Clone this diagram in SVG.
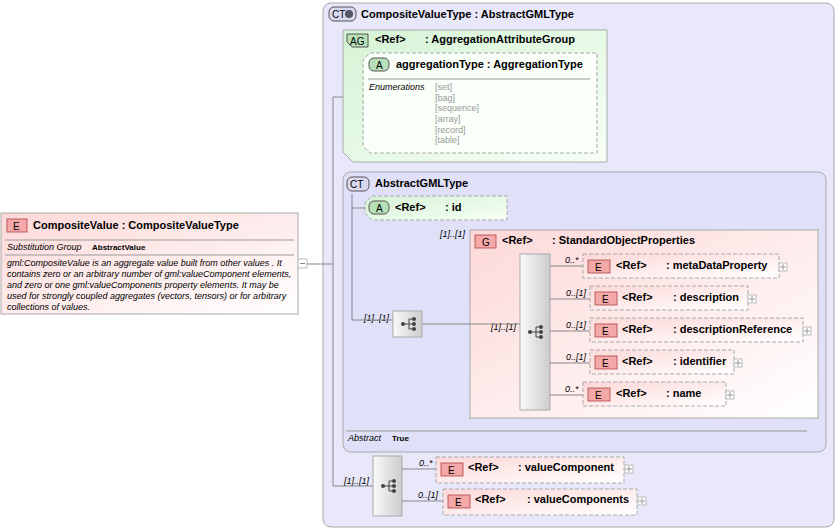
<svg xmlns="http://www.w3.org/2000/svg" width="838" height="530" viewBox="0 0 838 530">
<style>
text{font-family:"Liberation Sans",Arial,sans-serif;fill:#000}
.t{font-size:11px;font-weight:bold}
.s{font-size:9px;font-style:italic}
.d{font-size:9px;fill:#999}
.c{stroke:#888;stroke-width:1;fill:none}
.el{fill:url(#pk);stroke:#aaa;stroke-dasharray:4,2}
.eb{fill:#f4a8a8;stroke:#a44;stroke-width:0.8}
.pl{fill:#fff;stroke:#bbb}
</style>
<defs>
<linearGradient id="pk" x1="0" y1="0" x2="1" y2="1"><stop offset="0" stop-color="#fdd8d8"/><stop offset="1" stop-color="#fff"/></linearGradient>
<linearGradient id="gr" x1="0" y1="0" x2="1" y2="1"><stop offset="0" stop-color="#d6f3d6"/><stop offset="1" stop-color="#f6fff6"/></linearGradient>
<linearGradient id="sq" x1="0" y1="0" x2="1" y2="0"><stop offset="0" stop-color="#fafafa"/><stop offset="1" stop-color="#ccc"/></linearGradient>
<g id="seqicon"><circle cx="-6" cy="0" r="2" fill="#444"/><path d="M-6 0H0M0-5V5M0-5H4M0 0H4M0 5H4" stroke="#444" fill="none"/><circle cx="5" cy="-5" r="2" fill="#444"/><circle cx="5" cy="0" r="2" fill="#444"/><circle cx="5" cy="5" r="2" fill="#444"/></g>
</defs>

<g id="compositeValue">
<rect x="1" y="213" width="297" height="101" fill="url(#pk)" stroke="#aaa"/>
<rect x="7" y="219" width="20" height="13" class="eb"/><text x="13" y="230" font-size="10">E</text>
<text x="33" y="229" class="t">CompositeValue : CompositeValueType</text>
<line x1="5" y1="240" x2="294" y2="240" stroke="#999"/>
<text x="7" y="250" class="s">Substitution Group</text><text x="92" y="250" font-size="8" font-weight="bold">AbstractValue</text>
<line x1="5" y1="255" x2="294" y2="255" stroke="#999"/>
<text class="s" fill="#333"><tspan x="7" y="266">gml:CompositeValue is an aggregate value built from other values . It</tspan><tspan x="7" y="277">contains zero or an arbitrary number of gml:valueComponent elements,</tspan><tspan x="7" y="288">and zero or one gml:valueComponents property elements.  It may be</tspan><tspan x="7" y="299">used for strongly coupled aggregates (vectors, tensors) or for arbitrary</tspan><tspan x="7" y="310">collections of values.</tspan></text>
<rect x="298" y="259" width="9" height="9" class="pl"/><path d="M300 263.5H305" stroke="#888"/>
</g>

<g id="compositeValueType">
<rect x="323" y="3" width="511" height="524" rx="8" fill="#e8e8fa" stroke="#aaa"/>
<rect x="329" y="7" width="27" height="14" rx="5" fill="#d8d8ee" stroke="#555"/><text x="332" y="18" font-size="10">CT</text><circle cx="349" cy="14" r="4" fill="#556"/>
<text x="361" y="18" class="t">CompositeValueType : AbstractGMLType</text>
</g>

<g id="aggregationAttributeGroup">
<path d="M343 30H607V162H353L343 152Z" fill="url(#gr)" stroke="#aaa"/>
<path d="M347 34H368V47H352L347 42Z" fill="#b8e0b8" stroke="#555"/><text x="350" y="45" font-size="10">AG</text>
<text x="375" y="43" class="t">&lt;Ref&gt;</text><text x="425" y="43" class="t">: AggregationAttributeGroup</text>
<path d="M370 53H597V153H370L363 146V60Z" fill="#fafffa" stroke="#aaa" stroke-dasharray="4,2"/>
<rect x="369" y="58" width="20" height="13" rx="5" fill="#b8e0b8" stroke="#555"/><text x="376" y="69" font-size="10">A</text>
<text x="396" y="68" class="t">aggregationType : AggregationType</text>
<line x1="368" y1="79" x2="590" y2="79" stroke="#999"/>
<text x="369" y="90" class="s">Enumerations</text>
<text class="d"><tspan x="435" y="90">[set]</tspan><tspan x="435" y="101">[bag]</tspan><tspan x="435" y="111">[sequence]</tspan><tspan x="435" y="122">[array]</tspan><tspan x="435" y="133">[record]</tspan><tspan x="435" y="143">[table]</tspan></text>
</g>

<g id="abstractGMLType">
<rect x="343" y="172" width="483" height="280" rx="8" fill="#e0e0f8" stroke="#aaa"/>
<rect x="347" y="177" width="22" height="14" rx="5" fill="#d8d8ee" stroke="#555"/><text x="350" y="188" font-size="10">CT</text>
<text x="375" y="187" class="t">AbstractGMLType</text>
<line x1="346" y1="431" x2="807" y2="431" stroke="#999"/>
<text x="348" y="441" class="s">Abstract</text><text x="392" y="441" font-size="8" font-weight="bold">True</text>
</g>

<g id="attrId">
<path d="M372 196H507V220H372L365 213V203Z" fill="url(#gr)" stroke="#aaa" stroke-dasharray="4,2"/>
<rect x="369" y="201" width="20" height="13" rx="5" fill="#b8e0b8" stroke="#555"/><text x="376" y="212" font-size="10">A</text>
<text x="395" y="211" class="t">&lt;Ref&gt;</text><text x="445" y="211" class="t">: id</text>
</g>

<g id="seq1">
<text x="364" y="321" class="s">[1]..[1]</text>
<rect x="393" y="311" width="29" height="26" fill="url(#sq)" stroke="#aaa"/><use href="#seqicon" x="409" y="324"/>
</g>

<g id="standardObjectProperties">
<text x="440" y="237" class="s">[1]..[1]</text>
<rect x="470" y="230" width="348" height="188" fill="url(#pk)" stroke="#aaa"/>
<rect x="475" y="235" width="21" height="13" class="eb"/><text x="482" y="246" font-size="10">G</text>
<text x="502" y="244" class="t">&lt;Ref&gt;</text><text x="552" y="244" class="t">: StandardObjectProperties</text>
<text x="491" y="330" class="s">[1]..[1]</text>
<rect x="520" y="254" width="30" height="156" fill="url(#sq)" stroke="#aaa"/><use href="#seqicon" x="536" y="332"/>
</g>

<g id="metaDataProperty">
<text x="565" y="263" class="s">0..*</text>
<rect x="583" y="254" width="196" height="24" class="el"/>
<rect x="588" y="260" width="22" height="13" class="eb"/><text x="595" y="271" font-size="10">E</text>
<text x="616" y="269" class="t">&lt;Ref&gt;</text><text x="666" y="269" class="t">: metaDataProperty</text>
<rect x="779" y="263" width="8" height="8" class="pl"/><path d="M780 267H786M783 264V270" stroke="#999"/>
</g>
<g id="description">
<text x="566" y="296" class="s">0..[1]</text>
<rect x="590" y="286" width="158" height="24" class="el"/>
<rect x="595" y="292" width="22" height="13" class="eb"/><text x="602" y="303" font-size="10">E</text>
<text x="622" y="301" class="t">&lt;Ref&gt;</text><text x="673" y="301" class="t">: description</text>
<rect x="748" y="295" width="8" height="8" class="pl"/><path d="M749 299H755M752 296V302" stroke="#999"/>
</g>
<g id="descriptionReference">
<text x="566" y="328" class="s">0..[1]</text>
<rect x="590" y="318" width="213" height="24" class="el"/>
<rect x="595" y="324" width="22" height="13" class="eb"/><text x="602" y="335" font-size="10">E</text>
<text x="622" y="333" class="t">&lt;Ref&gt;</text><text x="673" y="333" class="t">: descriptionReference</text>
<rect x="803" y="327" width="8" height="8" class="pl"/><path d="M804 331H810M807 328V334" stroke="#999"/>
</g>
<g id="identifier">
<text x="566" y="360" class="s">0..[1]</text>
<rect x="590" y="350" width="144" height="24" class="el"/>
<rect x="595" y="356" width="22" height="13" class="eb"/><text x="602" y="367" font-size="10">E</text>
<text x="622" y="365" class="t">&lt;Ref&gt;</text><text x="673" y="365" class="t">: identifier</text>
<rect x="734" y="359" width="8" height="8" class="pl"/><path d="M735 363H741M738 360V366" stroke="#999"/>
</g>
<g id="name">
<text x="565" y="392" class="s">0..*</text>
<rect x="583" y="382" width="143" height="24" class="el"/>
<rect x="588" y="388" width="22" height="13" class="eb"/><text x="595" y="399" font-size="10">E</text>
<text x="616" y="397" class="t">&lt;Ref&gt;</text><text x="666" y="397" class="t">: name</text>
<rect x="726" y="391" width="8" height="8" class="pl"/><path d="M727 395H733M730 392V398" stroke="#999"/>
</g>

<g id="seq2">
<text x="344" y="484" class="s">[1]..[1]</text>
<rect x="373" y="456" width="29" height="60" fill="url(#sq)" stroke="#aaa"/><use href="#seqicon" x="389" y="486"/>
</g>
<g id="valueComponent">
<text x="419" y="466" class="s">0..*</text>
<rect x="436" y="457" width="188" height="26" class="el"/>
<rect x="441" y="463" width="22" height="13" class="eb"/><text x="448" y="474" font-size="10">E</text>
<text x="468" y="471" class="t">&lt;Ref&gt;</text><text x="518" y="471" class="t">: valueComponent</text>
<rect x="625" y="465" width="8" height="8" class="pl"/><path d="M626 469H632M629 466V472" stroke="#999"/>
</g>
<g id="valueComponents">
<text x="418" y="498" class="s">0..[1]</text>
<rect x="443" y="489" width="194" height="26" class="el"/>
<rect x="448" y="495" width="22" height="13" class="eb"/><text x="455" y="506" font-size="10">E</text>
<text x="475" y="503" class="t">&lt;Ref&gt;</text><text x="527" y="503" class="t">: valueComponents</text>
<rect x="638" y="497" width="8" height="8" class="pl"/><path d="M639 501H645M642 498V504" stroke="#999"/>
</g>

<g id="connectors">
<path class="c" d="M307 264H333M333 97V486M333 97H343M333 486H373M352 194V320M352 208H365M352 320H393M422 324H520M550 266H583M550 299H590M550 331H590M550 363H590M550 395H583M402 469H436M402 501H443"/>
</g>
</svg>
